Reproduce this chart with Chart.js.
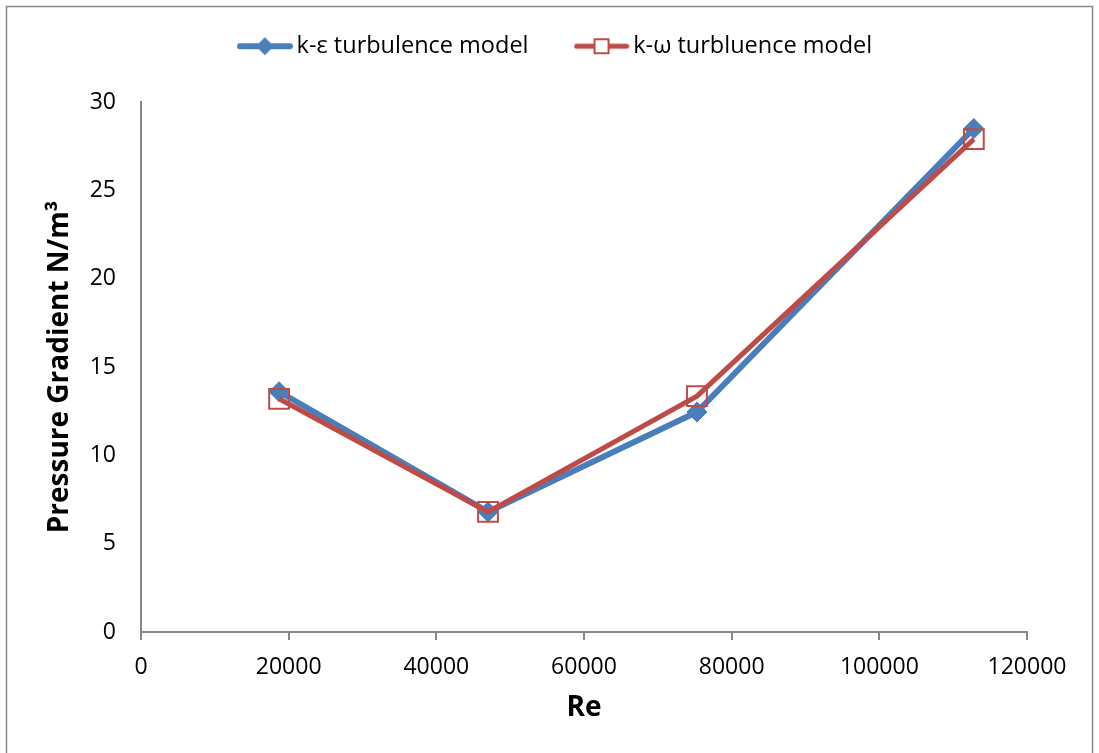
<!DOCTYPE html>
<html>
<head>
<meta charset="utf-8">
<script src="https://cdn.jsdelivr.net/npm/chart.js@4/dist/chart.umd.min.js"></script>
<style>
  html, body { margin: 0; padding: 0; background: #fff; }
</style>
</head>
<body>
<canvas id="pgChart" width="1099" height="753"></canvas>
<script>
// Reynolds number of each run
const reValues = [18700, 47000, 75300, 112800];

// Pressure gradient (N/m3) for each model
const kEpsilon = [13.6, 6.8, 12.45, 28.5];
const kOmega = [13.2, 6.8, 13.35, 27.9];

const seriesNames = ["k-ε turbulence model", "k-ω turbluence model"];

// Axis ticks
const xTicks = [0, 20000, 40000, 60000, 80000, 100000, 120000];
const yTicks = [0, 5, 10, 15, 20, 25, 30];

const BLUE = "#4A7EBB";
const RED = "#BE4B48";
const AXIS = "#868686";

// small line+marker pictures for the legend
function makeSwatch(color, lineW, drawMarker) {
    const c = document.createElement("canvas");
    c.width = 56;
    c.height = 24;
    const g = c.getContext("2d");
    g.strokeStyle = color;
    g.lineWidth = lineW;
    g.lineCap = "round";
    g.beginPath();
    g.moveTo(3, 12);
    g.lineTo(53, 12);
    g.stroke();
    drawMarker(g);
    return c;
}

const swatches = [
    makeSwatch(BLUE, 6, g => {
        g.fillStyle = BLUE;
        g.beginPath();
        g.moveTo(28, 3);
        g.lineTo(37, 12);
        g.lineTo(28, 21);
        g.lineTo(19, 12);
        g.closePath();
        g.fill();
    }),
    makeSwatch(RED, 5, g => {
        g.strokeStyle = RED;
        g.lineWidth = 2;
        g.fillStyle = "#fff";
        g.fillRect(21, 5, 14, 14);
        g.strokeRect(21, 5, 14, 14);
    })
];

const toPoints = ys => ys.map((y, i) => ({ x: reValues[i], y: y }));

// white page + outer frame
const framePlugin = {
    id: "frame",
    beforeDraw(chart) {
        const c = chart.ctx;
        c.save();
        c.fillStyle = "#fff";
        c.fillRect(0, 0, chart.width, chart.height);
        c.strokeStyle = AXIS;
        c.lineWidth = 1.5;
        c.strokeRect(6.5, 6.5, chart.width - 13, chart.height + 10);
        c.restore();
    }
};

// put legend where the original has it
const legendPlace = {
    id: "legendPlace",
    afterLayout(chart) {
        const lg = chart.legend;
        lg.left = 90;
        lg.top = -18.5;
    }
};

const chart = new Chart(document.getElementById("pgChart"), {
    type: "line",
    data: {
        datasets: [
            {
                label: seriesNames[0],
                data: toPoints(kEpsilon),
                borderColor: BLUE,
                backgroundColor: BLUE,
                borderWidth: 6,
                pointStyle: "rectRot",
                pointRadius: 10,
                pointHoverRadius: 10,
                pointBackgroundColor: BLUE,
                pointBorderColor: BLUE,
                pointBorderWidth: 1,
                tension: 0,
                order: 1
            },
            {
                label: seriesNames[1],
                data: toPoints(kOmega),
                borderColor: RED,
                backgroundColor: "rgba(0,0,0,0)",
                borderWidth: 5,
                pointStyle: "rect",
                pointRadius: 14,
                pointHoverRadius: 14,
                pointBackgroundColor: "rgba(0,0,0,0)",
                pointBorderColor: RED,
                pointBorderWidth: 2,
                tension: 0,
                order: 0
            }
        ]
    },
    options: {
        responsive: false,
        animation: false,
        layout: {
            padding: { top: 15.5, right: 72, bottom: 0, left: 0 }
        },
        plugins: {
            tooltip: { enabled: false },
            legend: {
                position: "top",
                labels: {
                    usePointStyle: true,
                    pointStyleWidth: 40,
                    padding: 53,
                    color: "#000",
                    font: { family: "'Open Sans'", size: 23.5 },
                    generateLabels: ch => ch.data.datasets.map((ds, i) => ({
                        text: ds.label,
                        pointStyle: swatches[i],
                        fillStyle: ds.borderColor,
                        strokeStyle: ds.borderColor,
                        lineWidth: 0,
                        fontColor: "#000",
                        hidden: false,
                        datasetIndex: i
                    }))
                }
            }
        },
        scales: {
            x: {
                type: "linear",
                min: 0,
                max: 120000,
                afterBuildTicks: s => { s.ticks = xTicks.map(v => ({ value: v })); },
                afterFit: s => { s.height = 121; },
                ticks: {
                    callback: v => String(v),
                    color: "#000",
                    font: { family: "'Open Sans'", size: 23 },
                    padding: 14,
                    maxRotation: 0,
                    autoSkip: false
                },
                grid: {
                    display: true,
                    drawOnChartArea: false,
                    drawTicks: true,
                    tickLength: 8,
                    color: AXIS,
                    lineWidth: 2
                },
                border: { display: true, color: AXIS, width: 2 },
                title: {
                    display: true,
                    text: "Re",
                    color: "#000",
                    font: { family: "'Open Sans'", size: 28, weight: "bold" },
                    padding: { top: 0, bottom: 28 }
                }
            },
            y: {
                type: "linear",
                min: 0,
                max: 30,
                afterBuildTicks: s => { s.ticks = yTicks.map(v => ({ value: v })); },
                afterFit: s => { s.width = 141; },
                ticks: {
                    color: "#000",
                    font: { family: "'Open Sans'", size: 23 },
                    padding: 25
                },
                grid: { display: false, drawTicks: false },
                border: { display: true, color: AXIS, width: 2 },
                title: {
                    display: true,
                    text: "Pressure Gradient N/m³",
                    color: "#000",
                    font: { family: "'Open Sans'", size: 28, weight: "bold" },
                    padding: { top: 43, bottom: 0 }
                }
            }
        }
    },
    plugins: [framePlugin, legendPlace]
});
</script>
</body>
</html>
